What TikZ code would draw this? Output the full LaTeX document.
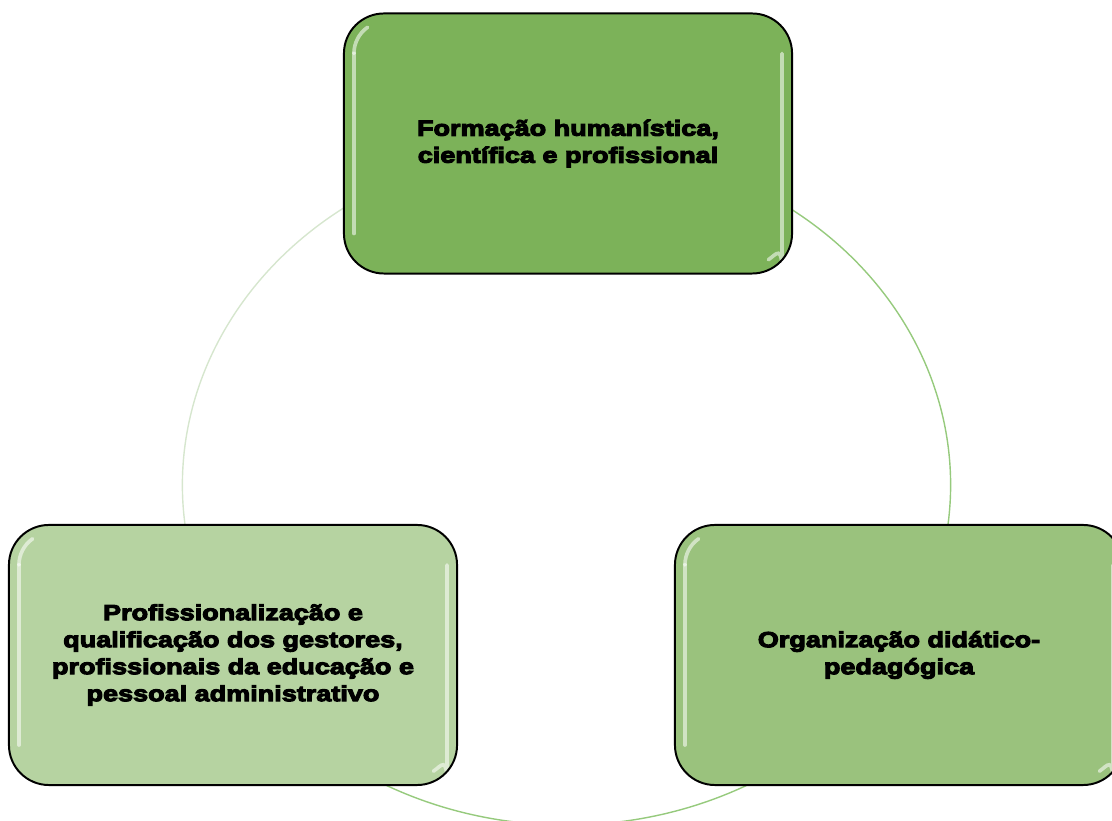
\documentclass[tikz,border=0pt]{standalone}
\usepackage{fontspec}
\newfontfamily\boxfont{Liberation Sans Bold}[FakeStretch=1.24,FakeBold=5]
\usetikzlibrary{calc}
\definecolor{gtop}{RGB}{124,178,89}
\definecolor{gright}{RGB}{154,194,125}
\definecolor{gleft}{RGB}{182,211,161}
\definecolor{arcdark}{RGB}{150,202,125}
\definecolor{arcpale}{RGB}{214,230,206}

\begin{document}
\begin{tikzpicture}[x=0.025cm, y=0.025cm,
  hl/.style={white, opacity=.55, line width=2.6pt, line cap=round},
  box/.style={draw=black, line width=1.4pt, rounded corners=1cm, align=center,
              minimum width=11.2cm, minimum height=6.5cm, inner sep=0pt,
              font=\boxfont\fontsize{15.5}{19.2}\selectfont,
              path picture={
                \draw[hl] ([shift={(0.25cm,-1.0cm)}]path picture bounding box.north west)
                  arc[start angle=180, end angle=125, radius=0.8cm];
                \draw[hl] ([shift={(0.25cm,-1.0cm)}]path picture bounding box.north west) --
                  ([shift={(0.25cm,1.0cm)}]path picture bounding box.south west);
                \draw[hl] ([shift={(-0.25cm,-1.0cm)}]path picture bounding box.north east) --
                  ([shift={(-0.25cm,1.0cm)}]path picture bounding box.south east)
                  arc[start angle=0, end angle=-55, radius=0.8cm];}},
  ring/.style={line width=1pt}
]
\useasboundingbox (0,0) rectangle (1112,821);
% ring behind the boxes
\coordinate (ctr) at (566.5,336);
\coordinate (rs) at ($(ctr)+(58:9.6cm and 8.5cm)$);
\coordinate (bs) at ($(ctr)+(-58:9.6cm and 8.5cm)$);
\coordinate (ls) at ($(ctr)+(190:9.6cm and 8.5cm)$);
\draw[ring, arcdark] (rs) arc[start angle=58, end angle=-10, x radius=9.6cm, y radius=8.5cm];
\draw[ring, arcdark] (bs) arc[start angle=-58, end angle=-122, x radius=9.6cm, y radius=8.5cm];
\draw[ring, arcpale] (ls) arc[start angle=190, end angle=122, x radius=9.6cm, y radius=8.5cm];
% the three boxes
\node[box, fill=gtop] (form) at (568,677.5) {Formação humanística,\\científica e profissional};
\node[box, fill=gleft] (prof) at (233,166) {Profissionalização e\\qualificação dos gestores,\\profissionais da educação e\\pessoal administrativo};
\node[box, fill=gright] (org) at (899,166) {Organização didático-\\pedagógica};
\end{tikzpicture}
\end{document}
